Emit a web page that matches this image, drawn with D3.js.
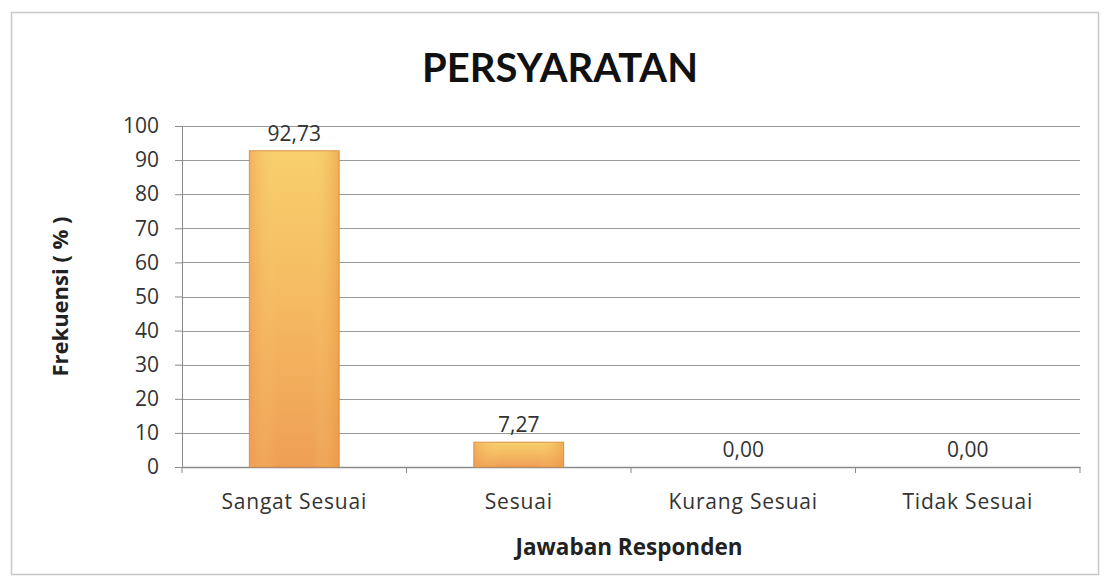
<!DOCTYPE html>
<html>
<head>
<meta charset="utf-8">
<script src="https://cdn.jsdelivr.net/npm/d3@7"></script>
<style>
  body { margin: 0; background: #fff; }
  svg text { font-family: "Open Sans", Lato, sans-serif; }
</style>
</head>
<body>
<div id="viz"></div>
<script>
// chart values
const categories = ['Sangat Sesuai', 'Sesuai', 'Kurang Sesuai', 'Tidak Sesuai'];
const values = [92.73, 7.27, 0.00, 0.00];
const yTicks = [0, 10, 20, 30, 40, 50, 60, 70, 80, 90, 100];

let width = 1108;
let height = 585;

let margin = { top: 126, right: 28, bottom: 118, left: 182 };

const svg = d3.select('#viz').append('svg')
  .attr('width', width)
  .attr('height', height);

// outer chart border
svg.append('rect')
  .attr('x', 11.5)
  .attr('y', 12.5)
  .attr('width', 1087)
  .attr('height', 562)
  .attr('fill', '#fff')
  .attr('stroke', '#c8c8c8')
  .attr('stroke-width', 1.5);

let x = d3.scaleBand()
  .domain(categories)
  .range([margin.left, width - margin.right])
  .paddingInner(0.6)
  .paddingOuter(0.3);

let y = d3.scaleLinear()
  .domain([0, 100])
  .range([height - margin.bottom, margin.top]);

// gradient for bars
let defs = svg.append('defs');
let grad = defs.append('linearGradient')
  .attr('id', 'barGrad')
  .attr('x1', 0).attr('y1', 0).attr('x2', 0).attr('y2', 1);
grad.append('stop').attr('offset', '0%').attr('stop-color', '#f8cf6c');
grad.append('stop').attr('offset', '45%').attr('stop-color', '#f5bb62');
grad.append('stop').attr('offset', '100%').attr('stop-color', '#ef9f55');

let gradH = defs.append('linearGradient')
  .attr('id', 'barGradH')
  .attr('x1', 0).attr('y1', 0).attr('x2', 1).attr('y2', 0);
gradH.append('stop').attr('offset', '0%').attr('stop-color', '#ee9a4e').attr('stop-opacity', 0.55);
gradH.append('stop').attr('offset', '30%').attr('stop-color', '#f8d27a').attr('stop-opacity', 0);
gradH.append('stop').attr('offset', '70%').attr('stop-color', '#f8d27a').attr('stop-opacity', 0);
gradH.append('stop').attr('offset', '100%').attr('stop-color', '#e8953f').attr('stop-opacity', 0.55);

// gridlines
svg.append('g')
  .selectAll('line')
  .data(yTicks.filter(d => d > 0))
  .join('line')
  .attr('x1', margin.left)
  .attr('x2', width - margin.right)
  .attr('y1', d => Math.round(y(d)) + 0.5)
  .attr('y2', d => Math.round(y(d)) + 0.5)
  .attr('stroke', '#9a9a9a')
  .attr('stroke-width', 1.2);

// y axis
const yAxis = svg.append('g')
  .attr('transform', `translate(${margin.left},0)`)
  .call(d3.axisLeft(y).tickValues(yTicks).tickSize(7).tickPadding(16));
yAxis.select('.domain').attr('stroke', '#8a8a8a');
yAxis.selectAll('.tick line').attr('stroke', '#8a8a8a');
yAxis.selectAll('.tick text')
  .attr('font-size', 21)
  .attr('fill', '#333');

// x axis
const xAxis = svg.append('g')
  .attr('transform', `translate(0,${y(0)})`)
  .call(d3.axisBottom(x).tickSize(0).tickPadding(27));
xAxis.select('.domain').attr('stroke', '#8a8a8a').attr('stroke-width', 1.5);
xAxis.selectAll('.tick text')
  .attr('font-size', 21)
  .attr('letter-spacing', 0.8)
  .attr('fill', '#333');

// category boundary ticks
let step = x.step();
let bounds = categories.map((c, i) => x(c) - x.paddingInner() * step / 2).concat([width - margin.right]);
svg.append('g')
  .selectAll('line')
  .data(bounds)
  .join('line')
  .attr('x1', d => d)
  .attr('x2', d => d)
  .attr('y1', y(0))
  .attr('y2', y(0) + 6)
  .attr('stroke', '#8a8a8a');

// bars
const bars = svg.append('g')
  .selectAll('g')
  .data(values.map((v, i) => ({ cat: categories[i], value: v })))
  .join('g')
  .filter(d => d.value > 0);

bars.append('rect')
  .attr('x', d => x(d.cat))
  .attr('y', d => y(d.value))
  .attr('width', x.bandwidth())
  .attr('height', d => y(0) - y(d.value))
  .attr('fill', 'url(#barGrad)')
  .attr('stroke', '#d88e45')
  .attr('stroke-width', 1);

bars.append('rect')
  .attr('x', d => x(d.cat))
  .attr('y', d => y(d.value))
  .attr('width', x.bandwidth())
  .attr('height', d => y(0) - y(d.value))
  .attr('fill', 'url(#barGradH)');

// value labels
svg.append('g')
  .selectAll('text')
  .data(values.map((v, i) => ({ cat: categories[i], value: v })))
  .join('text')
  .attr('x', d => x(d.cat) + x.bandwidth() / 2)
  .attr('y', d => y(d.value) - 10)
  .attr('text-anchor', 'middle')
  .attr('font-size', 21)
  .attr('fill', '#333')
  .text(d => d.value.toFixed(2).replace('.', ','));

// title
svg.append('text')
  .attr('x', 560)
  .attr('y', 82)
  .attr('text-anchor', 'middle')
  .attr('font-size', 40)
  .attr('font-weight', 'bold')
  .attr('fill', '#111')
  .style('font-family', 'Lato, sans-serif')
  .text('PERSYARATAN');

// axis titles
svg.append('text')
  .attr('transform', `translate(68,${(y(0) + y(100)) / 2}) rotate(-90)`)
  .attr('text-anchor', 'middle')
  .attr('font-size', 22)
  .attr('font-weight', 'bold')
  .attr('fill', '#222')
  .text('Frekuensi ( % )');

svg.append('text')
  .attr('x', 629)
  .attr('y', 555)
  .attr('text-anchor', 'middle')
  .attr('font-size', 22.5)
  .attr('font-weight', 'bold')
  .attr('fill', '#222')
  .text('Jawaban Responden');
</script>
</body>
</html>
